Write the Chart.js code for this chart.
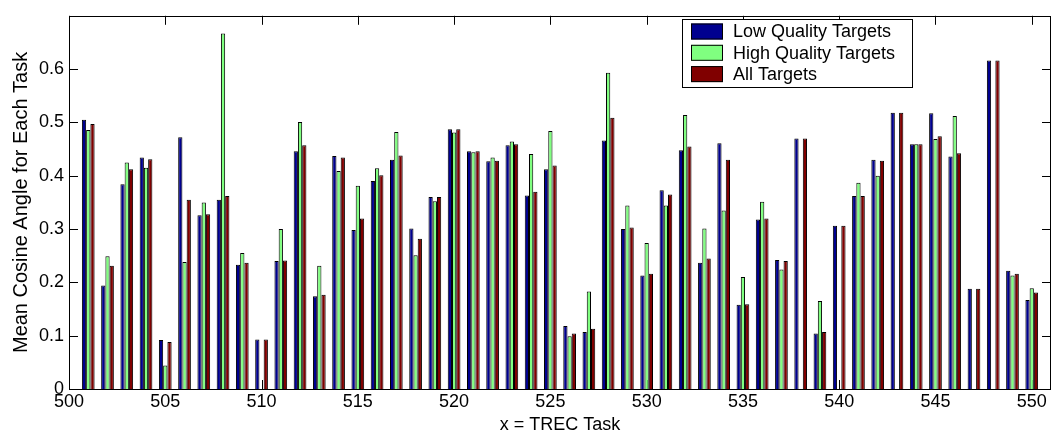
<!DOCTYPE html>
<html>
<head>
<meta charset="utf-8">
<script src="https://cdn.jsdelivr.net/npm/chart.js@4.4.1/dist/chart.umd.min.js"></script>
<style>
  html, body { margin: 0; padding: 0; background: #fff; }
  #wrap { width: 1053px; height: 437px; }
</style>
</head>
<body>
<div id="wrap"><canvas id="taskChart" width="1053" height="437"></canvas></div>
<script>
// ---- data ----
const tasks = [
  501, 502, 503, 504, 505, 506, 507, 508, 509, 510,
  511, 512, 513, 514, 515, 516, 517, 518, 519, 520,
  521, 522, 523, 524, 525, 526, 527, 528, 529, 530,
  531, 532, 533, 534, 535, 536, 537, 538, 539, 540,
  541, 542, 543, 544, 545, 546, 547, 548, 549, 550
];
const lowQuality = [
  0.505, 0.194, 0.384, 0.434, 0.092, 0.472, 0.326, 0.355, 0.233, 0.093,
  0.240, 0.446, 0.174, 0.437, 0.298, 0.390, 0.430, 0.301, 0.360, 0.487,
  0.446, 0.427, 0.457, 0.363, 0.412, 0.118, 0.107, 0.466, 0.300, 0.213,
  0.373, 0.448, 0.237, 0.461, 0.158, 0.318, 0.242, 0.470, 0.104, 0.306,
  0.362, 0.430, 0.518, 0.459, 0.517, 0.436, 0.188, 0.616, 0.222, 0.167
];
const highQuality = [
  0.486, 0.249, 0.425, 0.415, 0.044, 0.238, 0.350, 0.667, 0.255, 0,
  0.300, 0.501, 0.231, 0.409, 0.381, 0.414, 0.482, 0.251, 0.352, 0.481,
  0.444, 0.434, 0.464, 0.441, 0.484, 0.099, 0.183, 0.593, 0.344, 0.274,
  0.344, 0.514, 0.301, 0.335, 0.210, 0.351, 0.224, 0, 0.165, 0,
  0.387, 0.400, 0, 0.459, 0.469, 0.512, 0, 0, 0.213, 0.189
];
const allTargets = [
  0.497, 0.231, 0.412, 0.431, 0.088, 0.355, 0.328, 0.362, 0.237, 0.093,
  0.241, 0.457, 0.177, 0.434, 0.320, 0.401, 0.438, 0.282, 0.360, 0.487,
  0.446, 0.428, 0.459, 0.370, 0.419, 0.104, 0.113, 0.509, 0.303, 0.216,
  0.365, 0.455, 0.245, 0.430, 0.159, 0.320, 0.240, 0.470, 0.107, 0.306,
  0.362, 0.428, 0.518, 0.459, 0.474, 0.442, 0.188, 0.616, 0.216, 0.181
];
const seriesNames = ["Low Quality Targets", "High Quality Targets", "All Targets"];
const xTicks = [500, 505, 510, 515, 520, 525, 530, 535, 540, 545, 550];
const yTicks = [0, 0.1, 0.2, 0.3, 0.4, 0.5, 0.6];

const FONT = "'Liberation Sans', Arial, Helvetica, sans-serif";
Chart.defaults.font.family = FONT;
Chart.defaults.color = "#000";

const toPoints = vals => tasks.map((t, i) => ({ x: t, y: vals[i] }));

// matlab style box with inward ticks
const axesBox = {
  id: "axesBox",
  beforeDatasetsDraw(chart) {
    const { ctx, chartArea: a, scales: { x, y } } = chart;
    const len = 9;
    ctx.save();
    ctx.strokeStyle = "#000";
    ctx.lineWidth = 1;
    ctx.beginPath();
    xTicks.forEach(v => {
      const px = Math.round(x.getPixelForValue(v)) + 0.5;
      ctx.moveTo(px, a.bottom); ctx.lineTo(px, a.bottom - len);
      ctx.moveTo(px, a.top); ctx.lineTo(px, a.top + len);
    });
    yTicks.forEach(v => {
      const py = Math.round(y.getPixelForValue(v)) + 0.5;
      ctx.moveTo(a.left, py); ctx.lineTo(a.left + len, py);
      ctx.moveTo(a.right, py); ctx.lineTo(a.right - len, py);
    });
    ctx.stroke();
    ctx.restore();
  },
  afterDatasetsDraw(chart) {
    const { ctx, chartArea: a } = chart;
    ctx.save();
    ctx.strokeStyle = "#000";
    ctx.lineWidth = 1;
    ctx.strokeRect(Math.round(a.left) + 0.5, Math.round(a.top) + 0.5,
      Math.round(a.right - a.left) - 1, Math.round(a.bottom - a.top));
    ctx.restore();
  }
};

// legend box in the top right, drawn like matlab does it
const boxLegend = {
  id: "boxLegend",
  afterDraw(chart) {
    const { ctx } = chart;
    const bx = 682, by = 19, bw = 230, bh = 68;
    ctx.save();
    ctx.fillStyle = "#fff";
    ctx.fillRect(bx, by, bw, bh);
    ctx.strokeStyle = "#000";
    ctx.lineWidth = 1;
    ctx.strokeRect(bx + 0.5, by + 0.5, bw, bh);
    ctx.font = "18px " + FONT;
    ctx.textBaseline = "middle";
    chart.data.datasets.forEach((ds, i) => {
      const cy = by + 12.5 + i * 21.3;
      ctx.fillStyle = ds.backgroundColor;
      ctx.fillRect(691, cy - 8, 32, 16);
      ctx.strokeRect(691.5, cy - 7.5, 31, 15);
      ctx.fillStyle = "#000";
      ctx.fillText(ds.label, 733, cy + 1);
    });
    ctx.restore();
  }
};

const taskChart = new Chart(document.getElementById("taskChart"), {
  type: "bar",
  data: {
    datasets: [
      { label: seriesNames[0], data: toPoints(lowQuality), backgroundColor: "#00008F" },
      { label: seriesNames[1], data: toPoints(highQuality), backgroundColor: "#80FF80" },
      { label: seriesNames[2], data: toPoints(allTargets), backgroundColor: "#800000" }
    ]
  },
  options: {
    responsive: false,
    animation: false,
    layout: { padding: { top: 9, right: 2, left: 0, bottom: 0 } },
    datasets: {
      bar: {
        borderColor: "#000",
        borderWidth: 1,
        categoryPercentage: 0.66,
        barPercentage: 1.0
      }
    },
    scales: {
      x: {
        type: "linear",
        min: 500,
        max: 551,
        offset: false,
        grid: { display: false, drawTicks: false },
        border: { display: false },
        afterBuildTicks: s => { s.ticks = xTicks.map(v => ({ value: v })); },
        afterFit: s => { s.height = 48; },
        ticks: { padding: 2, maxRotation: 0, autoSkip: false, font: { size: 18 } },
        title: { display: true, text: "x = TREC Task", font: { size: 18 }, padding: { top: 0, bottom: 1 } }
      },
      y: {
        min: 0,
        max: 0.7,
        grid: { display: false, drawTicks: false },
        border: { display: false },
        afterBuildTicks: s => { s.ticks = yTicks.map(v => ({ value: v })); },
        afterFit: s => { s.width = 69; },
        ticks: {
          padding: 5,
          font: { size: 18 },
          callback: v => String(+v.toFixed(1))
        },
        title: { display: true, text: "Mean Cosine Angle for Each Task", font: { size: 20 }, padding: { top: 9, bottom: 0 } }
      }
    },
    plugins: {
      legend: { display: false },
      tooltip: { enabled: false }
    }
  },
  plugins: [axesBox, boxLegend]
});
</script>
</body>
</html>
